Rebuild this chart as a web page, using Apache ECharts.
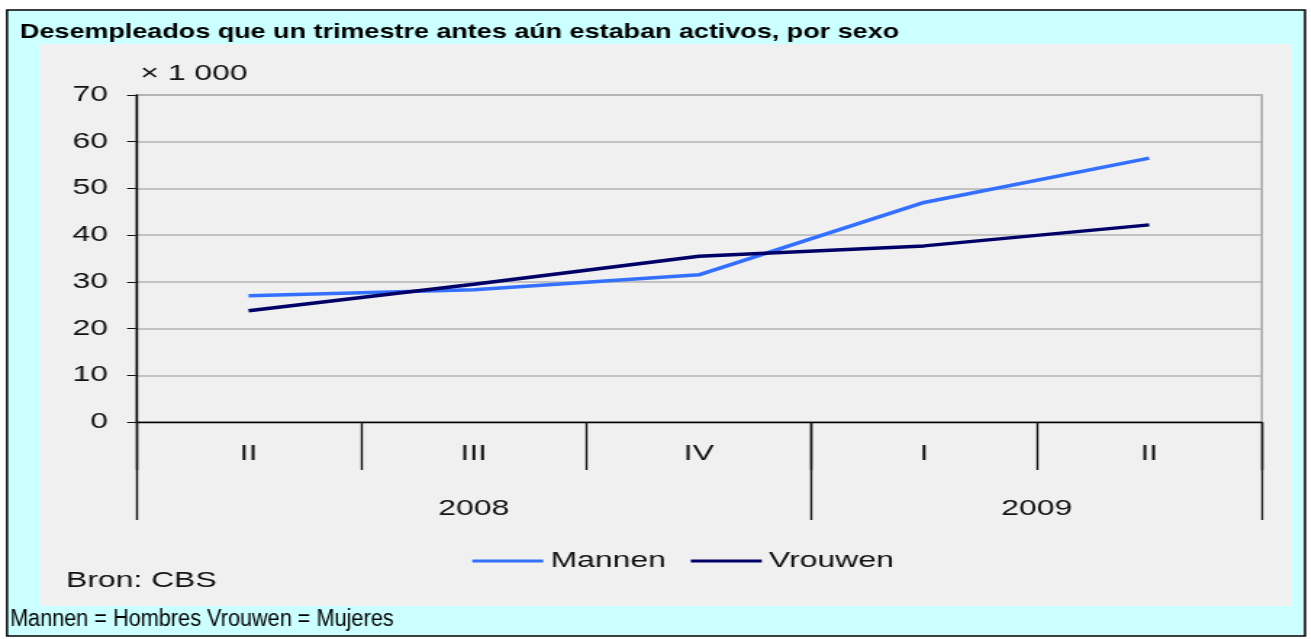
<!DOCTYPE html>
<html>
<head>
    <meta charset="utf-8"/>
    <title>Desempleados por sexo</title>
    <script src="https://cdn.jsdelivr.net/npm/echarts@6/dist/echarts.min.js"></script>
    <style>
        html, body { margin: 0; padding: 0; background: #ffffff; overflow: hidden; }
        /* the source picture is stretched sideways, so the chart is drawn narrow and scaled */
        #chart { width: 904px; height: 639px; transform: scaleX(1.45); transform-origin: 0 0; }
    </style>
</head>
<body>
<div id="chart"></div>
<script>
var S = 1.45;
var quarters = ['II', 'III', 'IV', 'I', 'II'];
var years = ['2008', '2009'];
var yearCenters = [1.5, 4];      // middle of each year, in quarter units
var yearBounds = [0, 3, 5];
var mannen = [27, 28.3, 31.5, 47, 56.5];
var vrouwen = [23.8, 29.5, 35.5, 37.7, 42.2];

var FONT = 'Arial, "Liberation Sans", sans-serif';

function px(x) { return x / S; }

var chart = echarts.init(document.getElementById('chart'));
var option = {
    animation: false,
    textStyle: { fontFamily: FONT },
    graphic: [
        { type: 'rect', z: -10, shape: { x: px(7), y: 10, width: px(1298), height: 626 },
          style: { fill: '#ccffff', stroke: '#000000', lineWidth: 1.5 } },
        { type: 'rect', z: -9, shape: { x: px(40), y: 44, width: px(1252), height: 562 },
          style: { fill: '#f0f0f0' } },
        { type: 'text', x: px(20), y: 32, scaleX: 0.885,
          style: { text: 'Desempleados que un trimestre antes aún estaban activos, por sexo',
                   font: 'bold 21px ' + FONT, fill: '#000', verticalAlign: 'middle' } },
        { type: 'text', x: px(66), y: 581,
          style: { text: 'Bron: CBS', font: '22px ' + FONT, fill: '#111', verticalAlign: 'middle' } },
        { type: 'text', x: px(10), y: 620, scaleX: 0.65,
          style: { text: 'Mannen = Hombres Vrouwen = Mujeres', font: '23px ' + FONT, fill: '#000', verticalAlign: 'middle' } }
    ],
    legend: {
        left: px(465), top: 545,
        itemWidth: px(71), itemHeight: 3, itemGap: px(25),
        icon: 'rect',
        textStyle: { fontSize: 22, color: '#111', fontFamily: FONT },
        data: ['Mannen', 'Vrouwen']
    },
    grid: {
        left: px(136), right: px(1311 - 1262), top: 95, bottom: 639 - 422,
        show: true, borderColor: '#a0a0a0', borderWidth: 1.4, backgroundColor: 'transparent'
    },
    xAxis: [{
        type: 'category',
        data: quarters,
        boundaryGap: true,
        axisLine: { lineStyle: { color: '#000', width: 1.4 } },
        axisTick: { show: true, interval: 0, alignWithLabel: false, length: 48, lineStyle: { color: '#111', width: 1.4 } },
        axisLabel: { fontSize: 22, color: '#111', margin: 21, interval: 0 }
    }, {
        type: 'value',
        min: 0, max: 5,
        position: 'bottom',
        axisLine: { show: false },
        splitLine: { show: false },
        axisTick: { show: true, customValues: yearBounds, length: 98, lineStyle: { color: '#111', width: 1.4 } },
        axisLabel: {
            customValues: yearCenters, fontSize: 22, color: '#111', margin: 76,
            formatter: function (v) { return years[yearCenters.indexOf(v)]; }
        }
    }],
    yAxis: {
        type: 'value',
        min: 0, max: 70, interval: 10,
        name: '× 1 000',
        nameLocation: 'end',
        nameGap: 10,
        nameTextStyle: { fontSize: 22, color: '#111', align: 'left', padding: [0, 0, 0, 3] },
        axisLine: { show: true, lineStyle: { color: '#000', width: 1.4 } },
        axisTick: { show: true, length: px(9), lineStyle: { color: '#111' } },
        axisLabel: { fontSize: 22, color: '#111', margin: px(28) },
        splitLine: { lineStyle: { color: '#b4b4b4', width: 1.5 } }
    },
    series: [{
        name: 'Mannen',
        type: 'line',
        data: mannen,
        symbol: 'none',
        itemStyle: { color: '#3470ff' },
        lineStyle: { color: '#3470ff', width: 3.5 }
    }, {
        name: 'Vrouwen',
        type: 'line',
        data: vrouwen,
        symbol: 'none',
        itemStyle: { color: '#000066' },
        lineStyle: { color: '#000066', width: 3.5 }
    }]
};
chart.setOption(option);
</script>
</body>
</html>
